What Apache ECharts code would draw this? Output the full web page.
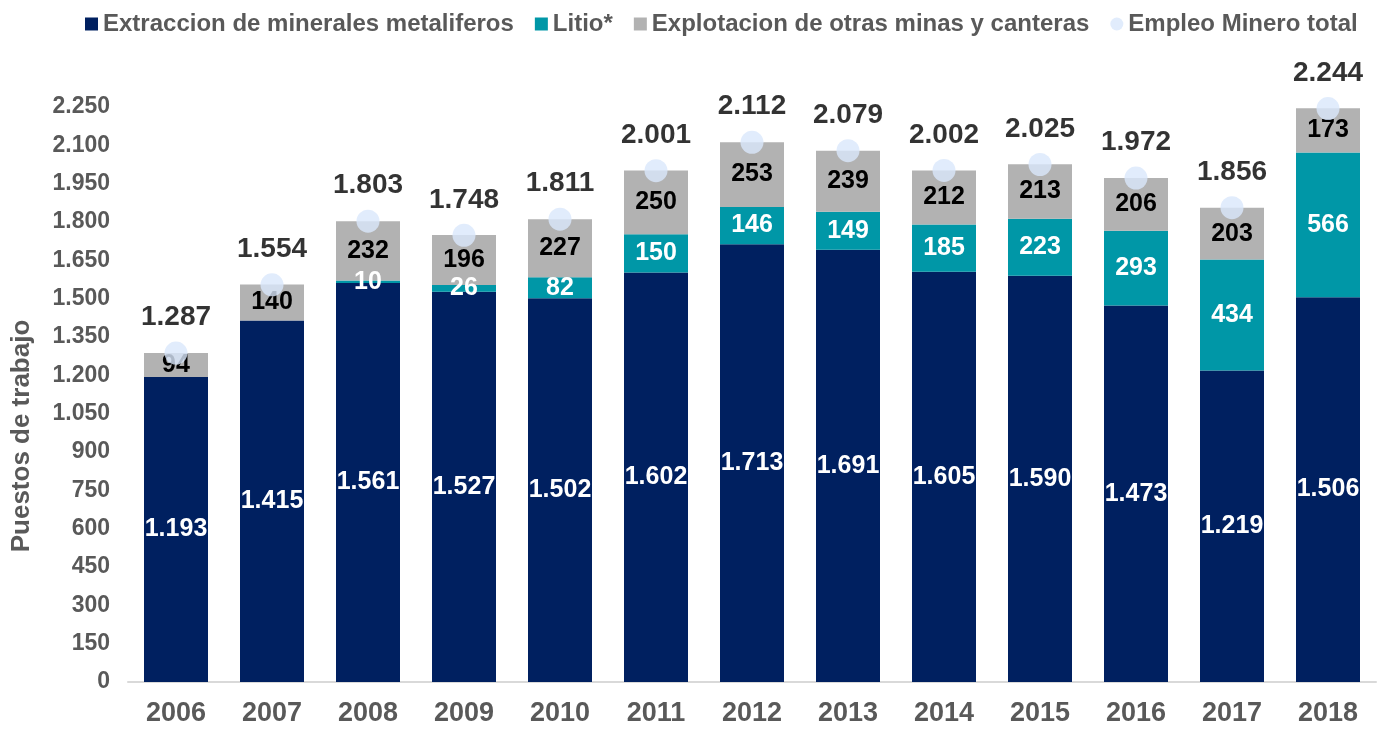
<!DOCTYPE html>
<html>
<head>
    <meta charset="utf-8">
    <title>Empleo minero</title>
    <script src="https://cdn.jsdelivr.net/npm/echarts@6/dist/echarts.min.js"></script>
    <style>
        html, body { margin: 0; padding: 0; background: #fff; }
    </style>
</head>
<body>
    <div id="main" style="width: 1378px;height:729px;"></div>

    <script type="text/javascript">
        // datos
        var years = ['2006', '2007', '2008', '2009', '2010', '2011', '2012', '2013', '2014', '2015', '2016', '2017', '2018'];
        var metaliferos = [1193, 1415, 1561, 1527, 1502, 1602, 1713, 1691, 1605, 1590, 1473, 1219, 1506];
        var litio = [0, 0, 10, 26, 82, 150, 146, 149, 185, 223, 293, 434, 566];
        var otras = [94, 140, 232, 196, 227, 250, 253, 239, 212, 213, 206, 203, 173];
        var total = [1287, 1554, 1803, 1748, 1811, 2001, 2112, 2079, 2002, 2025, 1972, 1856, 2244];

        var FONT = "'Liberation Sans', Arial, sans-serif";
        var GRIS = '#595959';

        // separador de miles con punto
        function fmt(v) {
            return String(v).replace(/\B(?=(\d{3})+(?!\d))/g, '.');
        }

        function barLabel(color) {
            return {
                show: true,
                position: 'inside',
                color: color,
                fontFamily: FONT,
                fontWeight: 'bold',
                fontSize: 25,
                formatter: function (p) { return p.value ? fmt(p.value) : ''; }
            };
        }

        var myChart = echarts.init(document.getElementById('main'));

        var option = {
            animation: false,
            textStyle: { fontFamily: FONT },
            legend: {
                left: 80,
                top: 7,
                itemWidth: 13,
                itemHeight: 13,
                itemGap: 21,
                textStyle: { fontFamily: FONT, fontSize: 24, fontWeight: 'bold', color: GRIS },
                data: [
                    { name: 'Extraccion de minerales metaliferos', icon: 'rect' },
                    { name: 'Litio*', icon: 'rect' },
                    { name: 'Explotacion de otras minas y canteras', icon: 'rect' },
                    { name: 'Empleo Minero total', icon: 'circle' }
                ]
            },
            grid: { left: 128, right: 2, top: 107, bottom: 47 },
            xAxis: {
                type: 'category',
                data: years,
                axisLine: { lineStyle: { color: '#d9d9d9', width: 2 } },
                axisTick: { show: false },
                axisLabel: { color: GRIS, fontFamily: FONT, fontSize: 27, fontWeight: 'bold', margin: 18 }
            },
            yAxis: {
                type: 'value',
                min: 0,
                max: 2250,
                interval: 150,
                splitLine: { show: false },
                axisLine: { show: false },
                axisTick: { show: false },
                axisLabel: {
                    color: GRIS, fontFamily: FONT, fontSize: 23, fontWeight: 'bold', margin: 18,
                    formatter: fmt
                }
            },
            graphic: [{
                type: 'text',
                x: 22,
                y: 436,
                rotation: Math.PI / 2,
                style: {
                    text: 'Puestos de trabajo',
                    font: 'bold 26px ' + FONT,
                    fill: GRIS,
                    align: 'center',
                    verticalAlign: 'middle'
                }
            }],
            series: [
                {
                    name: 'Extraccion de minerales metaliferos',
                    type: 'bar',
                    stack: 'empleo',
                    barWidth: 64,
                    itemStyle: { color: '#002060' },
                    label: barLabel('#ffffff'),
                    data: metaliferos
                },
                {
                    name: 'Litio*',
                    type: 'bar',
                    stack: 'empleo',
                    itemStyle: { color: '#0097a7' },
                    label: barLabel('#ffffff'),
                    data: litio
                },
                {
                    name: 'Explotacion de otras minas y canteras',
                    type: 'bar',
                    stack: 'empleo',
                    itemStyle: { color: '#b2b2b2' },
                    label: barLabel('#000000'),
                    data: otras
                },
                {
                    name: 'Empleo Minero total',
                    type: 'scatter',
                    symbol: 'circle',
                    symbolSize: 23,
                    z: 5,
                    itemStyle: { color: '#d9e7fb' },
                    label: {
                        show: true,
                        position: 'top',
                        distance: 10,
                        color: '#000000',
                        fontFamily: FONT,
                        fontWeight: 'bold',
                        fontSize: 28,
                        formatter: function (p) { return fmt(p.value); }
                    },
                    data: total
                }
            ]
        };

        myChart.setOption(option);
    </script>
</body>
</html>
